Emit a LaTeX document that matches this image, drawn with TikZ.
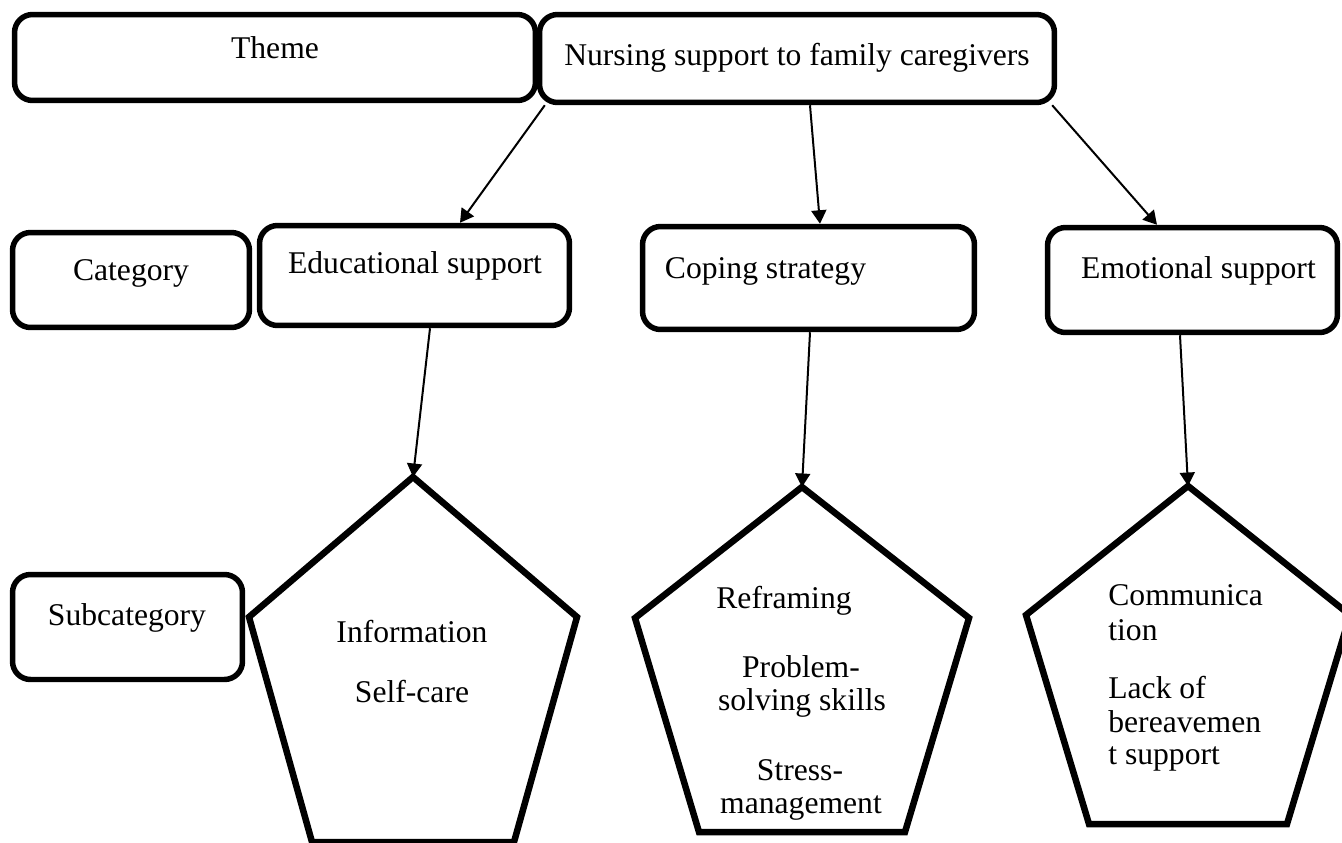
\documentclass[tikz,border=0pt]{standalone}
\usepackage{fontspec}
\setmainfont{Liberation Serif}
\usetikzlibrary{arrows.meta}

\begin{document}
\begin{tikzpicture}[x=0.02cm,y=-0.02cm,
    box/.style={draw,line width=0.11cm,rounded corners=0.36cm,inner sep=0},
    penta/.style={line width=0.13cm},
    arr/.style={-{Triangle[length=0.27cm,width=0.3cm]},line width=0.04cm},
    txt/.style={font=\fontsize{18}{20}\selectfont,inner sep=0,anchor=base}]
    \useasboundingbox (0,0) rectangle (1342,842);
    % Boxes
        \node[box,minimum width=10.42cm,minimum height=1.72cm] (theme) at (275,57.5) {};
        \node[box,minimum width=10.3cm,minimum height=1.76cm] (nursing) at (797,58.5) {};
        \node[box,minimum width=4.74cm,minimum height=1.9cm] (category) at (131,280) {};
        \node[box,minimum width=6.2cm,minimum height=2cm] (educ) at (414.5,275.5) {};
        \node[box,minimum width=6.64cm,minimum height=2.06cm] (coping) at (808.5,278) {};
        \node[box,minimum width=5.8cm,minimum height=2.1cm] (emot) at (1192.5,280) {};
        \node[box,minimum width=4.6cm,minimum height=2.1cm] (subcat) at (127.5,627) {};
    % Pentagons
        \foreach \n/\cx/\ty/\hw/\sy/\bw/\by in {1/413/477/164/617/101/842,2/802/487/167/618/103/832,3/1188/486/162/615/99/824}{
            \draw[penta] (\cx,\ty) coordinate (p\n) -- (\cx+\hw,\sy) -- (\cx+\bw,\by) -- (\cx-\bw,\by) -- (\cx-\hw,\sy) -- cycle;
        }
    % Labels
        \node[txt] (themetxt) at (275,58) {Theme};
        \node[txt] (nursingtxt) at (797,65) {Nursing support to family caregivers};
        \node[txt] (categorytxt) at (131,280) {Category};
        \node[txt] (eductxt) at (415,273) {Educational support};
        \node[txt] (copingtxt) at (765.5,278) {Coping strategy};
        \node[txt] (emottxt) at (1198.5,278) {Emotional support};
        \node[txt] (subcattxt) at (127,625) {Subcategory};
        \foreach \x/\y/\t [count=\i] in {412/642/Information,412/702/Self-care,784/608/Reframing,801/677/Problem-,802/710/solving skills,800/780/Stress-,801/813/management}{
            \node[txt] (sub\i) at (\x,\y) {\t};
        }
        \foreach \y/\t [count=\i] in {605/Communica,640/tion,698/Lack of,732/bereavemen,764/t support}{
            \node[txt,anchor=base west] (emo\i) at (1108,\y) {\t};
        }
    % Arrows
        \draw[arr] ([xshift=0.16cm]nursing.south west) -- ([xshift=0.91cm]educ.north);
        \draw[arr] ([xshift=0.26cm]nursing.south) -- ([xshift=0.23cm]coping.north);
        \draw[arr] ([xshift=-0.1cm]nursing.south east) -- ([xshift=-0.71cm]emot.north);
        \draw[arr] ([xshift=0.31cm]educ.south) -- (p1);
        \draw[arr] ([xshift=0.03cm]coping.south) -- (p2);
        \draw[arr] ([xshift=-0.25cm]emot.south) -- (p3);
\end{tikzpicture}
\end{document}
